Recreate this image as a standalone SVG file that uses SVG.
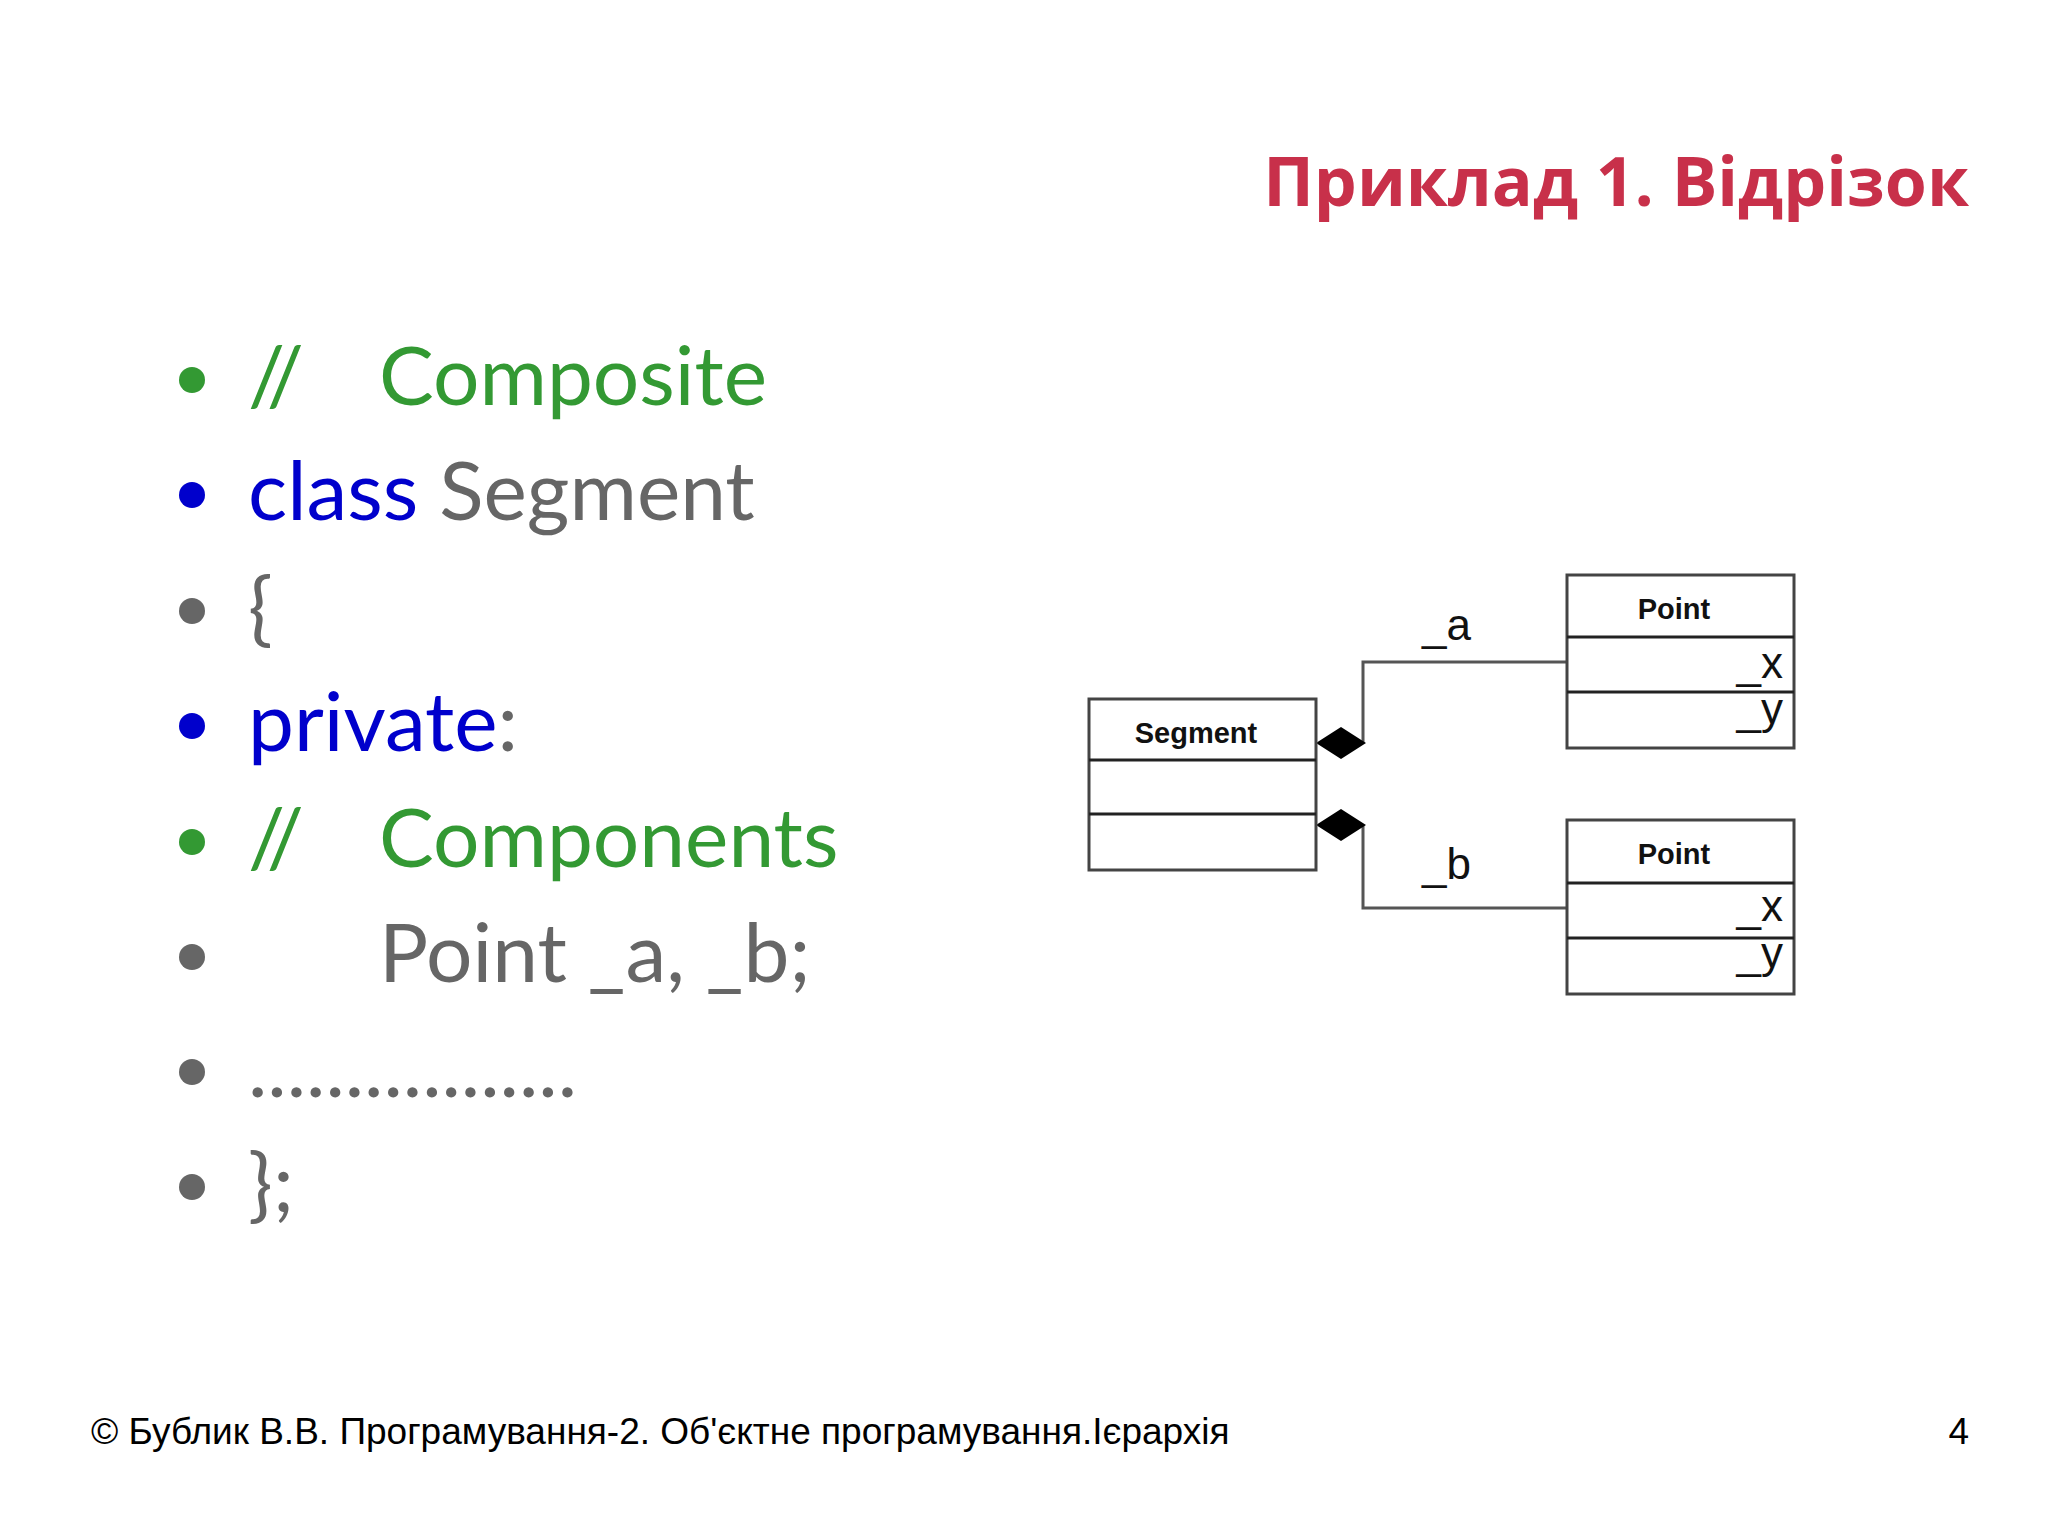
<svg xmlns="http://www.w3.org/2000/svg" width="2048" height="1536" viewBox="0 0 2048 1536">
<style>
.b{font-family:Lato,"Open Sans",sans-serif;font-size:82px}
.g{fill:#339933}.bl{fill:#0000CC}.gr{fill:#666666}
.box{fill:#fff;stroke:#444;stroke-width:3}
.dv{stroke:#222;stroke-width:3}
.ln{fill:none;stroke:#555;stroke-width:3}
.cn{font-family:"Liberation Sans",Arial,sans-serif;font-weight:bold;font-size:29px;text-anchor:middle;fill:#111}
.at{font-family:"Liberation Sans",Arial,sans-serif;font-size:44px;fill:#111}
</style>
<rect width="2048" height="1536" fill="#fff"/>
<text x="1969" y="206" text-anchor="end" font-family="'Open Sans',Lato,sans-serif" font-weight="bold" font-size="68" fill="#C8304A">Приклад 1. Відрізок</text>
<g id="code">
<circle cx="192" cy="380" r="13" class="g"/><text class="b g" x="248" y="405">//</text><text class="b g" x="379" y="405">Composite</text>
<circle cx="192" cy="495" r="13" class="bl"/><text class="b" x="248" y="520"><tspan class="bl">class</tspan><tspan class="gr"> Segment</tspan></text>
<circle cx="192" cy="611" r="13" class="gr"/><text class="b gr" x="248" y="636">{</text>
<circle cx="192" cy="726" r="13" class="bl"/><text class="b" x="248" y="751"><tspan class="bl">private</tspan><tspan class="gr">:</tspan></text>
<circle cx="192" cy="842" r="13" class="g"/><text class="b g" x="248" y="867">//</text><text class="b g" x="379" y="867">Components</text>
<circle cx="192" cy="957" r="13" class="gr"/><text class="b gr" x="379" y="982">Point _a, _b;</text>
<circle cx="192" cy="1072" r="13" class="gr"/><text class="b gr" x="248" y="1097">.................</text>
<circle cx="192" cy="1187" r="13" class="gr"/><text class="b gr" x="248" y="1212">};</text>
</g>
<g id="connectors">
<polyline class="ln" points="1363,743 1363,662 1567,662"/>
<polyline class="ln" points="1363,825 1363,908 1567,908"/>
<polygon points="1316,743 1341,727 1366,743 1341,759" fill="#000"/>
<polygon points="1316,825 1341,809 1366,825 1341,841" fill="#000"/>
<text class="at" x="1422" y="640">_a</text>
<text class="at" x="1422" y="879">_b</text>
</g>
<g id="segment">
<rect class="box" x="1089" y="699" width="227" height="171"/>
<line class="dv" x1="1089" y1="760" x2="1316" y2="760"/>
<line class="dv" x1="1089" y1="814" x2="1316" y2="814"/>
<text class="cn" x="1196" y="743">Segment</text>
</g>
<g id="point1">
<rect class="box" x="1567" y="575" width="227" height="173"/>
<line class="dv" x1="1567" y1="637" x2="1794" y2="637"/>
<line class="dv" x1="1567" y1="692" x2="1794" y2="692"/>
<text class="cn" x="1674" y="619">Point</text>
<text class="at" x="1783" y="678" text-anchor="end">_x</text>
<text class="at" x="1783" y="724" text-anchor="end">_y</text>
</g>
<g id="point2">
<rect class="box" x="1567" y="820" width="227" height="174"/>
<line class="dv" x1="1567" y1="883" x2="1794" y2="883"/>
<line class="dv" x1="1567" y1="938" x2="1794" y2="938"/>
<text class="cn" x="1674" y="864">Point</text>
<text class="at" x="1783" y="921" text-anchor="end">_x</text>
<text class="at" x="1783" y="968" text-anchor="end">_y</text>
</g>
<text x="91" y="1444" font-family="'Liberation Sans',Arial,sans-serif" font-size="37" fill="#000">© Бублик В.В. Програмування-2. Об'єктне програмування.Ієрархія</text>
<text x="1969" y="1444" text-anchor="end" font-family="'Liberation Sans',Arial,sans-serif" font-size="37" fill="#000">4</text>
</svg>
